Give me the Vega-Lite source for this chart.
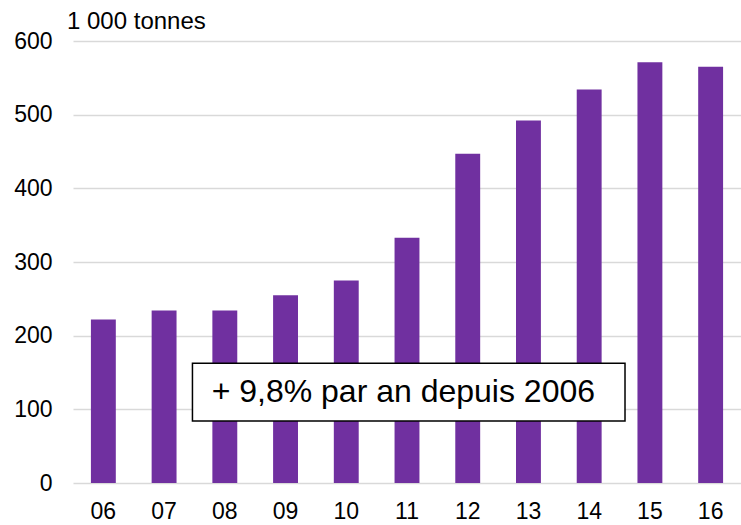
{
  "$schema": "https://vega.github.io/schema/vega-lite/v6.json",
  "autosize": {"type": "none"},
  "padding": {"left": 73, "top": 41, "right": 0, "bottom": 42},
  "width": 668,
  "height": 442,
  "background": "white",
  "config": {
    "view": {"stroke": null},
    "font": "Liberation Sans",
    "axis": {"labelFont": "Liberation Sans", "labelColor": "black", "labelFontSize": 23}
  },
  "title": {
    "text": "1 000 tonnes",
    "anchor": "start",
    "frame": "group",
    "fontSize": 24,
    "fontWeight": "normal",
    "color": "black",
    "font": "Liberation Sans",
    "dx": -6,
    "offset": -23,
    "baseline": "alphabetic"
  },
  "resolve": {"scale": {"x": "independent"}, "axis": {"x": "independent"}},
  "layer": [
    {
      "data": {
        "values": [
          {"annee": "06", "valeur": 222},
          {"annee": "07", "valeur": 234},
          {"annee": "08", "valeur": 234},
          {"annee": "09", "valeur": 255},
          {"annee": "10", "valeur": 275},
          {"annee": "11", "valeur": 333},
          {"annee": "12", "valeur": 447},
          {"annee": "13", "valeur": 492},
          {"annee": "14", "valeur": 534},
          {"annee": "15", "valeur": 571},
          {"annee": "16", "valeur": 565}
        ]
      },
      "mark": {"type": "bar", "color": "#7030A0"},
      "encoding": {
        "x": {
          "field": "annee",
          "type": "nominal",
          "sort": null,
          "scale": {"paddingInner": 0.59, "paddingOuter": 0.295},
          "axis": {
            "title": null,
            "labelAngle": 0,
            "domain": false,
            "ticks": false,
            "grid": false,
            "labelPadding": 17
          }
        },
        "y": {
          "field": "valeur",
          "type": "quantitative",
          "scale": {"domain": [0, 600], "nice": false},
          "axis": {
            "title": null,
            "values": [0, 100, 200, 300, 400, 500, 600],
            "domain": false,
            "ticks": false,
            "grid": true,
            "gridColor": "#d9d9d9",
            "gridWidth": 1.5,
            "labelPadding": 21
          }
        }
      }
    },
    {
      "data": {"values": [{"x1": 1.967, "x2": 9.09, "y1": 84, "y2": 162.5}]},
      "mark": {"type": "rect", "fill": "white", "stroke": "black", "strokeWidth": 1.5},
      "encoding": {
        "x": {"field": "x1", "type": "quantitative", "scale": {"domain": [0, 11], "nice": false, "zero": false}, "axis": null},
        "x2": {"field": "x2"},
        "y": {"field": "y1", "type": "quantitative"},
        "y2": {"field": "y2"}
      }
    },
    {
      "data": {"values": [{"x": 5.44, "y": 123, "label": "+ 9,8% par an depuis 2006"}]},
      "mark": {"type": "text", "fontSize": 32, "font": "Liberation Sans", "color": "black", "align": "center", "baseline": "middle"},
      "encoding": {
        "x": {"field": "x", "type": "quantitative", "scale": {"domain": [0, 11], "nice": false, "zero": false}, "axis": null},
        "y": {"field": "y", "type": "quantitative"},
        "text": {"field": "label"}
      }
    }
  ]
}
